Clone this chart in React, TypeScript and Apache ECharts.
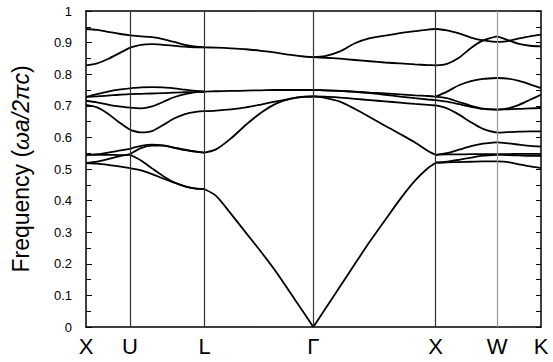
import React, { useEffect, useRef } from "react";
import * as echarts from "echarts";

// High-symmetry points along the k-path (horizontal distance units)
const pointLabels = ["X", "U", "L", "Γ", "X", "W", "K"];
const pointK = [0, 44, 118.5, 227.3, 349.7, 411, 455];
const pointLineColors = ["#000", "#333", "#333", "#333", "#333", "#999", "#000"];

// Segment X–U
const kXU = [0, 11, 22, 33, 44];
const bandsXU = [
  [0.943, 0.94, 0.934, 0.928, 0.923],
  [0.828, 0.834, 0.848, 0.866, 0.884],
  [0.728, 0.737, 0.745, 0.751, 0.755],
  [0.728, 0.73, 0.732, 0.735, 0.737],
  [0.716, 0.711, 0.704, 0.698, 0.694],
  [0.703, 0.695, 0.675, 0.648, 0.624],
  [0.545, 0.547, 0.552, 0.558, 0.564],
  [0.519, 0.523, 0.531, 0.54, 0.547],
  [0.545, 0.545, 0.545, 0.544, 0.545],
  [0.519, 0.517, 0.513, 0.508, 0.503],
];

// Segment U–L
const kUL = [44, 55, 66, 77, 88, 99, 110, 118.5];
const bandsUL = [
  [0.923, 0.92, 0.917, 0.911, 0.902, 0.893, 0.887, 0.885],
  [0.884, 0.893, 0.895, 0.893, 0.89, 0.887, 0.885, 0.885],
  [0.755, 0.758, 0.759, 0.758, 0.755, 0.751, 0.747, 0.745],
  [0.737, 0.738, 0.739, 0.74, 0.742, 0.743, 0.744, 0.745],
  [0.694, 0.692, 0.698, 0.712, 0.727, 0.737, 0.743, 0.745],
  [0.624, 0.616, 0.62, 0.639, 0.66, 0.674, 0.681, 0.683],
  [0.564, 0.573, 0.577, 0.575, 0.568, 0.561, 0.555, 0.552],
  [0.547, 0.566, 0.574, 0.574, 0.567, 0.56, 0.555, 0.552],
  [0.545, 0.527, 0.502, 0.478, 0.458, 0.445, 0.438, 0.436],
  [0.503, 0.496, 0.484, 0.47, 0.457, 0.445, 0.438, 0.436],
];

// Segment L–Γ
const kLG = [118.5, 130, 145, 160, 175, 190, 205, 218, 227.3];
const bandsLG = [
  [0.885, 0.884, 0.882, 0.879, 0.874, 0.868, 0.861, 0.856, 0.854],
  [0.745, 0.746, 0.747, 0.748, 0.749, 0.75, 0.75, 0.75, 0.75],
  [0.683, 0.685, 0.689, 0.695, 0.704, 0.714, 0.723, 0.728, 0.7295],
  [0.552, 0.562, 0.597, 0.64, 0.678, 0.707, 0.723, 0.729, 0.7295],
  [0.436, 0.415, 0.358, 0.298, 0.238, 0.175, 0.105, 0.044, 0],
];

// Segment Γ–X
const kGX = [227.3, 239, 254, 269, 284, 299, 314, 329, 342, 349.7];
const bandsGX = [
  [0.854, 0.857, 0.872, 0.898, 0.914, 0.922, 0.93, 0.936, 0.941, 0.943],
  [0.854, 0.852, 0.849, 0.845, 0.841, 0.837, 0.834, 0.831, 0.829, 0.828],
  [0.75, 0.749, 0.747, 0.745, 0.742, 0.739, 0.736, 0.733, 0.731, 0.729],
  [0.75, 0.749, 0.747, 0.744, 0.74, 0.735, 0.729, 0.724, 0.72, 0.718],
  [0.7295, 0.729, 0.726, 0.722, 0.718, 0.714, 0.71, 0.706, 0.703, 0.701],
  [0.7295, 0.725, 0.713, 0.69, 0.664, 0.637, 0.611, 0.584, 0.557, 0.545],
  [0, 0.056, 0.128, 0.2, 0.271, 0.338, 0.404, 0.463, 0.503, 0.52],
];

// Segment X–W
const kXW = [349.7, 361, 373, 385, 397, 411];
const bandsXW = [
  [0.943, 0.939, 0.929, 0.916, 0.907, 0.902],
  [0.828, 0.833, 0.852, 0.883, 0.907, 0.92],
  [0.729, 0.745, 0.765, 0.778, 0.785, 0.788],
  [0.729, 0.724, 0.712, 0.7, 0.691, 0.688],
  [0.718, 0.713, 0.705, 0.697, 0.69, 0.688],
  [0.701, 0.692, 0.672, 0.648, 0.627, 0.615],
  [0.545, 0.55, 0.561, 0.572, 0.58, 0.584],
  [0.545, 0.546, 0.546, 0.547, 0.547, 0.547],
  [0.52, 0.523, 0.529, 0.536, 0.542, 0.545],
  [0.52, 0.521, 0.522, 0.523, 0.524, 0.524],
];

// Segment W–K
const kWK = [411, 422, 433, 444, 455];
const bandsWK = [
  [0.902, 0.905, 0.913, 0.92, 0.925],
  [0.92, 0.908, 0.896, 0.89, 0.888],
  [0.788, 0.786, 0.779, 0.768, 0.756],
  [0.688, 0.692, 0.703, 0.719, 0.735],
  [0.688, 0.689, 0.69, 0.692, 0.693],
  [0.615, 0.617, 0.618, 0.619, 0.619],
  [0.584, 0.581, 0.577, 0.573, 0.571],
  [0.547, 0.547, 0.548, 0.548, 0.548],
  [0.545, 0.544, 0.543, 0.542, 0.542],
  [0.524, 0.522, 0.515, 0.508, 0.503],
];

const segments: [number[], number[][]][] = [
  [kXU, bandsXU],
  [kUL, bandsUL],
  [kLG, bandsLG],
  [kGX, bandsGX],
  [kXW, bandsXW],
  [kWK, bandsWK],
];

const FONT = "'Liberation Sans', Arial, Helvetica, sans-serif";

export default function App() {
  const ref = useRef<HTMLDivElement>(null);
  useEffect(() => {
    if (!ref.current) return;
    const chart = echarts.init(ref.current, undefined, { renderer: "svg" });

    const bandSeries: any[] = [];
    segments.forEach(([ks, bands]) => {
      bands.forEach((b) => {
        bandSeries.push({
          type: "line",
          xAxisIndex: 0,
          yAxisIndex: 0,
          data: ks.map((k, i) => [k, b[i]]),
          smooth: 0.3,
          symbol: "none",
          silent: true,
          z: 3,
          lineStyle: { color: "#000", width: 1.8 },
        });
      });
    });

    const markSeries = {
      type: "line",
      data: [],
      silent: true,
      z: 2,
      markLine: {
        silent: true,
        symbol: "none",
        label: { show: false },
        data: pointK.slice(1, 6).map((k, i) => ({
          xAxis: k,
          lineStyle: { color: pointLineColors[i + 1], width: 1.2, type: "solid" },
        })),
      },
    };

    const option: any = {
      animation: false,
      grid: { left: 86, right: 12, top: 11, bottom: 35 },
      xAxis: [
        {
          type: "value",
          min: 0,
          max: 455,
          position: "bottom",
          axisLine: { show: true, onZero: false, lineStyle: { color: "#000", width: 1.5 } },
          axisTick: { show: false },
          splitLine: { show: false },
          axisLabel: {
            customValues: pointK,
            formatter: (v: number) => {
              const idx = pointK.findIndex((k) => Math.abs(k - v) < 0.01);
              return idx >= 0 ? pointLabels[idx] : "";
            },
            fontSize: 22,
            fontFamily: FONT,
            color: "#000",
            margin: 8,
            showMinLabel: true,
            showMaxLabel: true,
          },
        },
        {
          type: "value",
          min: 0,
          max: 455,
          position: "top",
          axisLine: { show: true, onZero: false, lineStyle: { color: "#000", width: 1.5 } },
          axisTick: { show: false },
          axisLabel: { show: false },
          splitLine: { show: false },
        },
      ],
      yAxis: [
        {
          type: "value",
          min: 0,
          max: 1,
          interval: 0.1,
          position: "left",
          name: "Frequency ({i|ωa/2πc})",
          nameLocation: "middle",
          nameGap: 54,
          nameTextStyle: {
            fontSize: 23,
            fontFamily: FONT,
            color: "#000",
            rich: { i: { fontSize: 23, fontFamily: FONT, fontStyle: "italic", color: "#000" } },
          },
          axisLine: { show: true, onZero: false, lineStyle: { color: "#000", width: 1.5 } },
          axisTick: { show: true, inside: true, length: 6, lineStyle: { color: "#000", width: 1 } },
          minorTick: { show: true, splitNumber: 2, length: 5, lineStyle: { color: "#000", width: 1 } },
          splitLine: { show: false },
          axisLabel: { fontSize: 13, fontFamily: FONT, color: "#000", margin: 14 },
        },
        {
          type: "value",
          min: 0,
          max: 1,
          interval: 0.1,
          position: "right",
          axisLine: { show: true, onZero: false, lineStyle: { color: "#000", width: 1.5 } },
          axisTick: { show: true, inside: true, length: 5, lineStyle: { color: "#000", width: 1 } },
          minorTick: { show: true, splitNumber: 2, length: 5, lineStyle: { color: "#000", width: 1 } },
          splitLine: { show: false },
          axisLabel: { show: false },
        },
      ],
      series: [markSeries, ...bandSeries],
    };
    chart.setOption(option);
    return () => chart.dispose();
  }, []);

  return (
    <div
      ref={ref}
      style={{ position: "fixed", left: 0, top: 0, width: 553, height: 362, background: "#fff" }}
    />
  );
}
